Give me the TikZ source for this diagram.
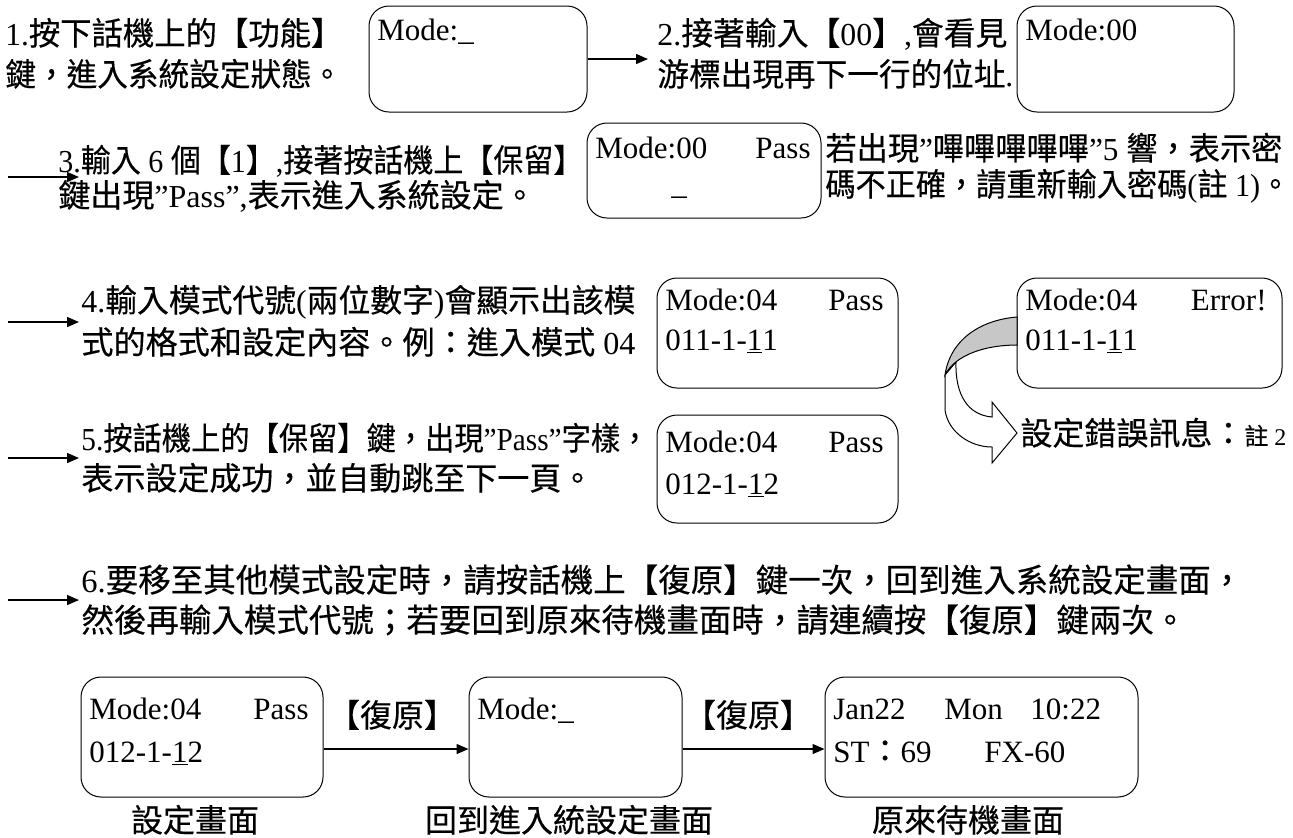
\documentclass[tikz,border=0pt]{standalone}
\usepackage{fontspec}
\usepackage{graphicx}
\setmainfont{Liberation Serif}
\newfontfamily\cjkf{Noto Sans CJK TC}[FakeBold=0.4]
\newfontfamily\tnr{Liberation Serif}
\usetikzlibrary{arrows.meta,fit}
\newcommand\lat[1]{{\tnr #1}}
\newcommand\fitw[2]{\resizebox{\dimexpr #1pt/2\relax}{\height}{#2}}
\tikzset{
 screen/.style={draw, rounded corners=10pt, line width=0.5pt, inner sep=0pt},
 zh/.style={anchor=base west, inner sep=0pt, font=\cjkf\fontsize{16}{19}\selectfont},
 zhbig/.style={zh, font=\cjkf\fontsize{16.25}{19}\selectfont},
 lcd/.style={anchor=base west, inner sep=0pt, font=\tnr\fontsize{15.5}{18}\selectfont},
 lcdr/.style={lcd, anchor=base east},
 arr/.style={-{Triangle[length=6pt,width=5pt]}, line width=0.7pt},
 bandfront/.style={fill=white, draw, line width=0.5pt},
 bandback/.style={fill=black!22, draw, line width=0.5pt},
}
\begin{document}
\begin{tikzpicture}[x=0.5pt,y=-0.5pt]
\useasboundingbox (0,0) rectangle (1293,837);
% screens
\node[screen, fit={(369,6) (587,112)}] (b1) {};
\node[screen, fit={(1017,6) (1234,112)}] (b2) {};
\node[screen, fit={(587,123) (821,218)}] (b3) {};
\node[screen, fit={(657,278) (898,388)}] (b4) {};
\node[screen, fit={(1017,278) (1282,388)}] (be) {};
\node[screen, fit={(657,415) (898,523)}] (b5) {};
\node[screen, fit={(81,677) (323,797)}] (ba) {};
\node[screen, fit={(469,677) (682,797)}] (bb) {};
\node[screen, fit={(825,677) (1138,797)}] (bc) {};
% screen texts
\node[lcd] (b1t) at (377,40) {Mode:\_};
\node[lcd] (b2t) at (1025,40) {Mode:00};
\node[lcd] (b3t) at (595,158) {Mode:00};
\node[lcdr] (b3p) at (811,158) {Pass};
\node[lcd] (b3u) at (671,194) {\_};
\node[lcd] (b4t) at (665,310) {Mode:04};
\node[lcdr] (b4p) at (884,310) {Pass};
\node[lcd] (b4c) at (665,350) {011-1-\underline{1}1};
\node[lcd] (bet) at (1025,310) {Mode:04};
\node[lcdr] (bep) at (1267,310) {Error!};
\node[lcd] (bec) at (1025,350) {011-1-\underline{1}1};
\node[lcd] (b5t) at (665,452) {Mode:04};
\node[lcdr] (b5p) at (884,452) {Pass};
\node[lcd] (b5c) at (665,494) {012-1-\underline{1}2};
\node[lcd] (bat) at (89,719) {Mode:04};
\node[lcdr] (bap) at (309,719) {Pass};
\node[lcd] (bac) at (89,762) {012-1-\underline{1}2};
\node[lcd] (bbt) at (477,719) {Mode:\_};
\node[lcd] (bc1) at (833,719) {Jan22};
\node[lcd] (bc2) at (944,719) {Mon};
\node[lcd] (bc3) at (1030,719) {10:22};
\node[lcd] (bc4) at (833,762) {ST{\cjkf ：}69};
\node[lcd] (bc5) at (984,762) {FX-60};
% instructions
\node[zh] (t1a) at (5,45) {\fitw{337}{\lat{1.}按下話機上的【功能】}};
\node[zh] (t1b) at (5,86) {\fitw{337}{鍵，進入系統設定狀態。}};
\node[zh] (t2a) at (657,45) {\fitw{350}{\lat{2.}接著輸入【\lat{00}】\lat{,}會看見}};
\node[zh] (t2b) at (657,86) {\fitw{356}{游標出現再下一行的位址\lat{.}}};
\node[zh] (t3a) at (58,172) {\fitw{525}{\lat{3.}輸入\lat{ 6 }個【\lat{1}】\lat{,}接著按話機上【保留】}};
\node[zh] (t3b) at (58,207) {鍵出現\lat{”Pass”,}表示進入系統設定。};
\node[zh] (r3a) at (825,160) {\fitw{457}{若出現\lat{”}嗶嗶嗶嗶嗶\lat{”5 }響，表示密}};
\node[zh] (r3b) at (825,196) {\fitw{465}{碼不正確，請重新輸入密碼\lat{(}註\lat{ 1)}。}};
\node[zh] (t4a) at (81,312) {\fitw{554}{\lat{4.}輸入模式代號\lat{(}兩位數字\lat{)}會顯示出該模}};
\node[zh] (t4b) at (81,354) {\fitw{554}{式的格式和設定內容。例：進入模式\lat{ 04}}};
\node[zh] (t5a) at (81,450) {\fitw{568}{\lat{5.}按話機上的【保留】鍵，出現\lat{”Pass”}字樣，}};
\node[zh] (t5b) at (81,490) {表示設定成功，並自動跳至下一頁。};
\node[zhbig] (t6a) at (81,592) {\lat{6.}要移至其他模式設定時，請按話機上【復原】鍵一次，回到進入系統設定畫面，};
\node[zhbig] (t6b) at (81,632) {然後再輸入模式代號；若要回到原來待機畫面時，請連續按【復原】鍵兩次。};
\node[zh] (el) at (1020,445) {設定錯誤訊息：{\fontsize{12}{14}\selectfont 註\lat{ 2}}};
\node[zh, anchor=base] (la) at (195,832) {設定畫面};
\node[zh, anchor=base] (lb) at (569,832) {回到進入統設定畫面};
\node[zh, anchor=base] (lc) at (968,832) {原來待機畫面};
\node[zh, anchor=base] (k1) at (392,727) {【復原】};
\node[zh, anchor=base] (k2) at (748,727) {【復原】};
% connectors
\coordinate (a1e) at (648,59);
\draw[arr] (b1.east) -- (a1e);
\coordinate (a3s) at (8,177); \coordinate (a3e) at (79,177);
\draw[arr] (a3s) -- (a3e);
\coordinate (a4s) at (8,322); \coordinate (a4e) at (79,322);
\draw[arr] (a4s) -- (a4e);
\coordinate (a5s) at (8,458); \coordinate (a5e) at (79,458);
\draw[arr] (a5s) -- (a5e);
\coordinate (a6s) at (8,600); \coordinate (a6e) at (79,600);
\draw[arr] (a6s) -- (a6e);
\draw[arr] ([yshift=-6pt]ba.east) -- ([yshift=-6pt]bb.west);
\draw[arr] ([yshift=-6pt]bb.east) -- ([yshift=-6pt]bc.west);
% curved block arrow
\path[bandfront] (945,375) -- (945,410) .. controls (948,432) and (970,447) .. (992,447) -- (992,463) -- (1017,433) -- (992,402) -- (992,417) .. controls (968,415) and (955,395) .. (956,362) -- cycle;
\path[bandback] (1017,317) .. controls (980,320) and (950,340) .. (945,375) .. controls (955,355) and (985,345) .. (1017,345) -- cycle;
\end{tikzpicture}
\end{document}
